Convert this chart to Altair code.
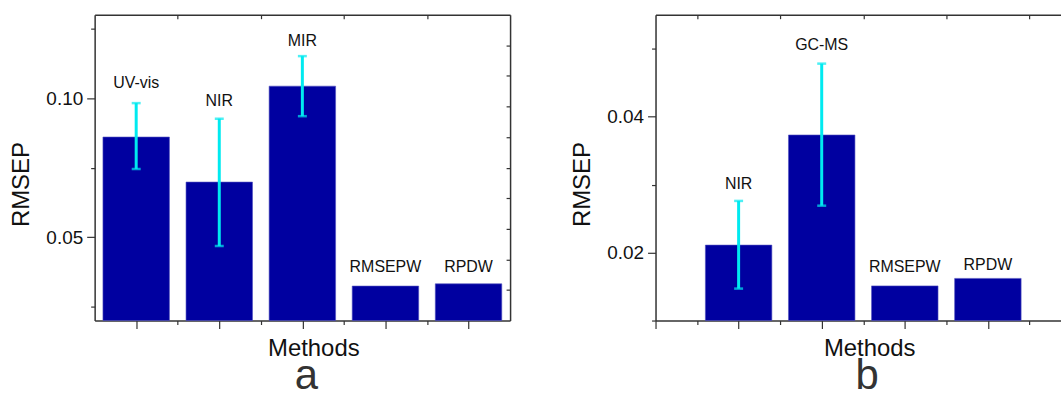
import altair as alt
import pandas as pd

FONT = "Liberation Sans"
BAR = "#0000a0"
ERR = "#00eaf0"
AX = "#333333"
TXT = "#111111"

# ---- panel a ----
a_methods = ["UV-vis", "NIR", "MIR", "RMSEPW", "RPDW"]
a_pos = [1, 2, 3, 4, 5]
a_rmsep = [0.0860, 0.0698, 0.1043, 0.0324, 0.0332]
a_err_low = [0.0745, 0.0468, 0.0935, None, None]
a_err_high = [0.0982, 0.0926, 0.1151, None, None]
a_label_y = [0.1054, 0.0990, 0.1206, 0.0392, 0.0392]
a_ydomain = [0.02, 0.13]
a_xdomain = [0.5, 5.5]
a_xmajor = [1, 2, 3, 4, 5]
a_xminor = [1.5, 2.5, 3.5, 4.5]
a_yticks = [0.05, 0.10]
a_yminor = [0.025, 0.075, 0.125]
a_yright = [0.031, 0.042, 0.053, 0.064, 0.075, 0.086, 0.097, 0.108, 0.119]

# ---- panel b ----
b_methods = ["NIR", "GC-MS", "RMSEPW", "RPDW"]
b_pos = [2, 3, 4, 5]
b_rmsep = [0.0211, 0.0373, 0.0151, 0.0162]
b_err_low = [0.0147, 0.0269, None, None]
b_err_high = [0.0276, 0.0478, None, None]
b_label_y = [0.0301, 0.0506, 0.0179, 0.0181]
b_ydomain = [0.01, 0.055]
b_xdomain = [1, 5.88]
b_xmajor = [1, 2, 3, 4, 5]
b_xminor = [1.5, 2.5, 3.5, 4.5, 5.5]
b_yticks = [0.02, 0.04]
b_yminor = [0.01, 0.03, 0.05]


def panel(methods, pos, rmsep, lo, hi, laby, xdom, ydom, xmajor, xminor,
          ymajor, yminor, yright, width, letter, letter_dx):
    df = pd.DataFrame({"method": methods, "pos": pos, "rmsep": rmsep,
                       "err_low": lo, "err_high": hi, "label_y": laby})
    xs = alt.Scale(domain=xdom, nice=False, zero=False)
    ys = alt.Scale(domain=ydom, nice=False, zero=False)
    base = alt.Chart(df)

    bars = base.transform_calculate(
        x0="datum.pos - 0.4", x1="datum.pos + 0.4"
    ).mark_bar(color=BAR, stroke="#5050c0", strokeWidth=0.6).encode(
        x=alt.X("x0:Q", scale=xs, axis=alt.Axis(
            orient="bottom", values=xmajor, labels=False, tickSize=8,
            tickColor=AX, tickWidth=1.2,
            domain=True, domainColor=AX, domainWidth=1.5, grid=False,
            title="Methods", titleFont=FONT, titleFontSize=24,
            titleFontWeight="normal", titleColor=TXT, titlePadding=7,
            titleX=width / 2 + 11)),
        x2="x1:Q",
        y=alt.Y("rmsep:Q", scale=ys, axis=alt.Axis(
            orient="left", values=ymajor, format=".2f", labelFont=FONT,
            labelFontSize=19, labelColor=TXT, labelPadding=4, tickSize=8,
            tickColor=AX, tickWidth=1.2, domain=True, domainColor=AX,
            domainWidth=1.5, grid=False, title="RMSEP", titleFont=FONT,
            titleFontSize=24, titleFontWeight="normal", titleColor=TXT,
            titlePadding=12, titleY=170)),
        y2=alt.datum(ydom[0]),
    )

    rules = base.transform_filter("isValid(datum.err_low)").mark_rule(
        color=ERR, strokeWidth=3
    ).encode(
        x=alt.X("pos:Q", scale=xs, axis=None),
        y=alt.Y("err_low:Q", scale=ys, axis=None),
        y2="err_high:Q",
    )

    caps = base.transform_fold(["err_low", "err_high"], as_=["k", "v"]).transform_filter(
        "isValid(datum.v)"
    ).mark_tick(color=ERR, thickness=2.5, size=9, orient="horizontal").encode(
        x=alt.X("pos:Q", scale=xs, axis=None),
        y=alt.Y("v:Q", scale=ys, axis=None),
    )

    labels = base.mark_text(font=FONT, fontSize=16, color=TXT, baseline="middle").encode(
        x=alt.X("pos:Q", scale=xs, axis=None),
        y=alt.Y("label_y:Q", scale=ys, axis=None),
        text="method:N",
    )

    minor = base.mark_point(opacity=0).encode(
        x=alt.X("pos:Q", scale=xs, axis=alt.Axis(
            orient="bottom", values=xminor, labels=False, tickSize=4,
            tickColor=AX, tickWidth=1.2, domain=False, grid=False, title=None)),
        y=alt.Y("rmsep:Q", scale=ys, axis=alt.Axis(
            orient="left", values=yminor, labels=False, tickSize=4,
            tickColor=AX, tickWidth=1.2, domain=False, grid=False, title=None)),
    )

    right_border = alt.Axis(orient="right", ticks=False, labels=False, domain=True,
                            domainColor=AX, domainWidth=1.5, grid=False, title=None) \
        if yright else None
    border = base.mark_point(opacity=0).encode(
        x=alt.X("pos:Q", scale=xs, axis=alt.Axis(
            orient="top", ticks=False, labels=False, domain=True, domainColor=AX,
            domainWidth=1.5, grid=False, title=None)),
        y=alt.Y("rmsep:Q", scale=ys, axis=right_border),
    )

    right_ticks = alt.Axis(orient="right", values=yright, offset=-4, tickSize=4,
                           tickColor=AX, tickWidth=1.2, labels=False, domain=False,
                           grid=False, title=None) if yright else None
    inward = base.mark_point(opacity=0).encode(
        x=alt.X("pos:Q", scale=xs, axis=alt.Axis(
            orient="top", values=xminor, offset=-4, tickSize=4, tickColor=AX,
            tickWidth=1.2, labels=False, domain=False, grid=False, title=None)),
        y=alt.Y("rmsep:Q", scale=ys, axis=right_ticks),
    )

    return alt.layer(bars, rules, caps, labels, minor, border, inward).resolve_axis(
        x="independent", y="independent"
    ).properties(
        width=width, height=307,
        title=alt.TitleParams(letter, orient="bottom", anchor="middle", frame="group",
                              fontSize=42, font=FONT, fontWeight="normal",
                              color="#333333", dx=letter_dx, offset=-4),
    )


left = panel(a_methods, a_pos, a_rmsep, a_err_low, a_err_high, a_label_y,
             a_xdomain, a_ydomain, a_xmajor, a_xminor, a_yticks, a_yminor,
             a_yright, 417, "a", 4)
right = panel(b_methods, b_pos, b_rmsep, b_err_low, b_err_high, b_label_y,
              b_xdomain, b_ydomain, b_xmajor, b_xminor, b_yticks, b_yminor,
              None, 407, "b", 9)

chart = alt.hconcat(left, right, spacing=60).properties(
    padding={"left": 10, "top": 13, "right": 0, "bottom": 0}
).configure_view(stroke=None)

chart.save("out.html", embed_options={"renderer": "svg", "actions": False})
